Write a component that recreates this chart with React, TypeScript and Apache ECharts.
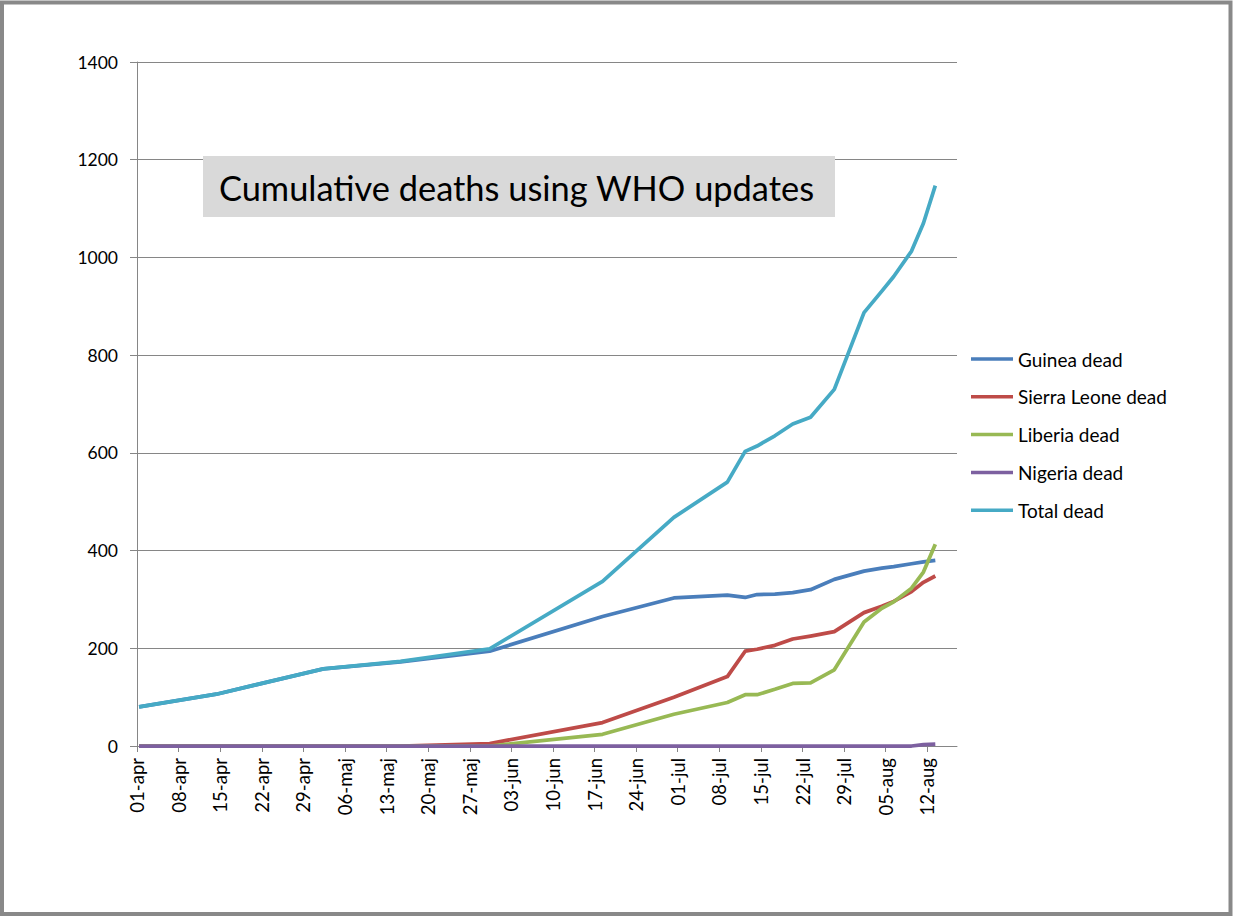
import React, { useEffect, useRef } from "react";
import * as echarts from "echarts";

// ---- Data ----
const DATES = [
  "2014-04-01", "2014-04-14", "2014-05-02", "2014-05-15", "2014-05-30",
  "2014-06-18", "2014-06-30", "2014-07-09", "2014-07-12", "2014-07-14",
  "2014-07-17", "2014-07-20", "2014-07-23", "2014-07-27", "2014-08-01",
  "2014-08-04", "2014-08-06", "2014-08-09", "2014-08-11", "2014-08-13",
];
const GUINEA = [80, 106, 158, 172, 194, 265, 303, 309, 304, 310, 311, 314, 320, 341, 358, 364, 367, 373, 377, 380];
const SIERRA_LEONE = [0, 0, 0, 0, 5, 48, 100, 142, 194, 198, 206, 219, 225, 234, 273, 286, 296, 316, 335, 348];
const LIBERIA = [0, 0, 0, 0, 0, 24, 65, 89, 105, 105, 116, 128, 129, 156, 254, 282, 295, 323, 356, 413];
const NIGERIA = [0, 0, 0, 0, 0, 0, 0, 0, 0, 0, 0, 0, 0, 0, 0, 0, 0, 0, 3, 4];
const TOTAL = [80, 106, 158, 173, 199, 337, 468, 540, 603, 614, 635, 659, 673, 730, 887, 931, 961, 1013, 1070, 1147];

const SERIES_NAMES = ["Guinea dead", "Sierra Leone dead", "Liberia dead", "Nigeria dead", "Total dead"];
const X_TICK_LABELS = [
  "01-apr", "08-apr", "15-apr", "22-apr", "29-apr", "06-maj", "13-maj", "20-maj", "27-maj", "03-jun",
  "10-jun", "17-jun", "24-jun", "01-jul", "08-jul", "15-jul", "22-jul", "29-jul", "05-aug", "12-aug",
];
const Y_MAX = 1400;
const Y_STEP = 200;
const TITLE = "Cumulative deaths using WHO updates";

// ---- Styling / layout ----
const COLORS = ["#4A7EBB", "#BE4B48", "#98B954", "#7D60A0", "#46AAC5"];
const FONT = "Lato, 'Open Sans', sans-serif";
const GRID_GRAY = "#868686";
const START = Date.UTC(2014, 3, 1);
const DAY_MS = 86400000;
const X_SHIFT = 0.35; // points sit slightly after the tick (Excel date axis)
const TICK_STEP_DAYS = 7;
const X_MAX_DAYS = 138;

function dayOf(s: string): number {
  const [y, m, d] = s.split("-").map(Number);
  return (Date.UTC(y, m - 1, d) - START) / DAY_MS;
}

export default function App() {
  const ref = useRef<HTMLDivElement>(null);

  useEffect(() => {
    if (!ref.current) return;
    const chart = echarts.init(ref.current, null, { renderer: "svg" });
    const values = [GUINEA, SIERRA_LEONE, LIBERIA, NIGERIA, TOTAL];
    const tickValues = X_TICK_LABELS.map((_, i) => i * TICK_STEP_DAYS);

    const option: any = {
      animation: false,
      backgroundColor: "#ffffff",
      color: COLORS,
      textStyle: { fontFamily: FONT },
      grid: { left: 137, right: 277, top: 62, bottom: 170, containLabel: false },
      xAxis: {
        type: "value",
        min: 0,
        max: X_MAX_DAYS,
        axisLine: { show: true, lineStyle: { color: GRID_GRAY, width: 1 } },
        axisTick: {
          show: true,
          length: 6,
          lineStyle: { color: GRID_GRAY, width: 1 },
          customValues: tickValues,
        },
        axisLabel: {
          customValues: tickValues,
          rotate: 90,
          margin: 12,
          color: "#000",
          fontFamily: FONT,
          fontSize: 18.5,
          formatter: (v: number) => X_TICK_LABELS[Math.round(v / TICK_STEP_DAYS)] ?? "",
        },
        splitLine: { show: false },
      },
      yAxis: {
        type: "value",
        min: 0,
        max: Y_MAX,
        interval: Y_STEP,
        axisLine: { show: true, lineStyle: { color: GRID_GRAY, width: 1 } },
        axisTick: { show: true, length: 7, lineStyle: { color: GRID_GRAY, width: 1 } },
        axisLabel: {
          color: "#000",
          fontFamily: FONT,
          fontSize: 17.5,
          margin: 19,
          formatter: (v: number) => String(v),
        },
        splitLine: { show: true, lineStyle: { color: GRID_GRAY, width: 1 } },
      },
      legend: {
        orient: "vertical",
        left: 971,
        top: 349,
        padding: 0,
        icon: "rect",
        itemWidth: 42,
        itemHeight: 3.5,
        itemGap: 17.8,
        data: SERIES_NAMES,
        textStyle: { color: "#000", fontFamily: FONT, fontSize: 19, lineHeight: 20 },
      },
      series: SERIES_NAMES.map((name, k) => ({
        name,
        type: "line",
        symbol: "none",
        data: DATES.map((d, i) => [dayOf(d) + X_SHIFT, values[k][i]]),
        lineStyle: { width: 3.75, color: COLORS[k], join: "round", cap: "butt" },
        itemStyle: { color: COLORS[k] },
        z: 2 + k,
      })),
      graphic: [
        {
          type: "rect",
          shape: { x: 2, y: 2.5, width: 1228.5, height: 911.5 },
          style: { fill: "none", stroke: "#898989", lineWidth: 4 },
          silent: true,
        },
        {
          type: "rect",
          shape: { x: 203, y: 156, width: 632, height: 61 },
          style: { fill: "#d9d9d9" },
          z: 10,
          silent: true,
        },
        {
          type: "text",
          x: 219,
          y: 187,
          style: {
            text: TITLE,
            fill: "#000",
            font: `34.4px ${FONT}`,
            verticalAlign: "middle",
            align: "left",
          },
          z: 11,
          silent: true,
        },
      ],
    };

    chart.setOption(option);
    return () => chart.dispose();
  }, []);

  return (
    <div
      ref={ref}
      style={{ position: "fixed", left: 0, top: 0, width: 1234, height: 916, background: "#fff" }}
    />
  );
}
